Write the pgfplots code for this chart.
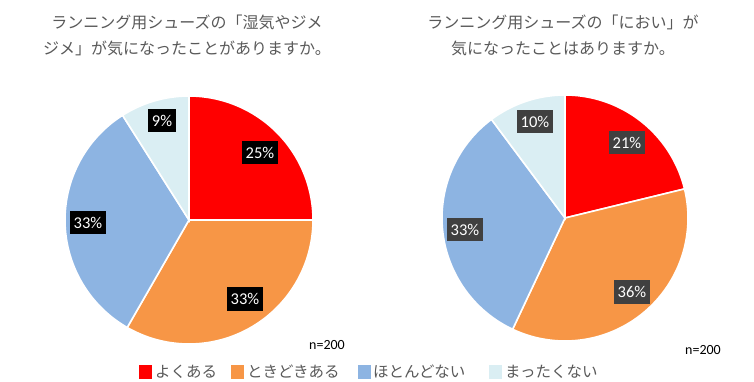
\documentclass[border=0pt]{standalone}
\usepackage{fontspec}
\setmainfont{Carlito}
\newfontfamily\jp{Noto Sans CJK JP}
\usepackage{pgfplots}
\pgfplotsset{compat=1.18}
\definecolor{cRed}{HTML}{FF0000}
\definecolor{cOrange}{HTML}{F79646}
\definecolor{cBlue}{HTML}{8DB4E2}
\definecolor{cLight}{HTML}{DAEEF3}
\definecolor{txt}{HTML}{595959}
\definecolor{boxR}{HTML}{404040}

% \slice{cx}{cy}{r}{start %}{end %}{colour}
\newcommand{\slice}[6]{%
  \pgfmathsetmacro{\angA}{90-3.6*(#5)}%
  \pgfmathsetmacro{\angB}{90-3.6*(#4)}%
  \addplot[draw=white, line width=1.6bp, fill=#6, domain=\angA:\angB, samples=90, variable=\t]
    ({#1+#3*cos(\t)}, {#2+#3*sin(\t)}) -- (axis cs:#1,#2) -- cycle;
}
\newcommand{\plabel}[4]{%
  \node[fill=#3, text=white, font=\fontsize{16.5bp}{19bp}\selectfont, inner xsep=4bp, inner ysep=2bp, minimum height=23bp] at (axis cs:#1,#2) {#4};
}

\begin{document}
\begin{tikzpicture}
\begin{axis}[x=1bp, y=1bp, xmin=0, xmax=754, ymin=0, ymax=382, hide axis, clip=false]
% Left pie: よくある 25, ときどきある 33.3, ほとんどない 32.7, まったくない 9.0
\slice{189}{162}{124}{0}{25}{cRed}
\slice{189}{162}{124}{25}{58.3}{cOrange}
\slice{189}{162}{124}{58.3}{91}{cBlue}
\slice{189}{162}{124}{91}{100}{cLight}
% Right pie: 21.2, 35.8, 32.8, 10.2
\slice{565}{164}{123}{0}{21.2}{cRed}
\slice{565}{164}{123}{21.2}{57}{cOrange}
\slice{565}{164}{123}{57}{89.8}{cBlue}
\slice{565}{164}{123}{89.8}{100}{cLight}

\plabel{260}{229}{black}{25\%}
\plabel{245}{83}{black}{33\%}
\plabel{88}{159}{black}{33\%}
\plabel{162}{261}{black}{9\%}

\plabel{627}{239}{boxR}{21\%}
\plabel{632}{90}{boxR}{36\%}
\plabel{465}{152}{boxR}{33\%}
\plabel{535}{260}{boxR}{10\%}

% titles
\node[align=center, text=txt, font=\jp\fontsize{16bp}{26bp}\selectfont] at (axis cs:187,347)
  {ランニング用シューズの「湿気やジメ\\ジメ」が気になったことがありますか。};
\node[align=center, text=txt, font=\jp\fontsize{16bp}{26bp}\selectfont] at (axis cs:563,347)
  {ランニング用シューズの「におい」が\\気になったことはありますか。};

% n
\node[font=\fontsize{14bp}{16bp}\selectfont] at (axis cs:327,37) {n=200};
\node[font=\fontsize{14bp}{16bp}\selectfont] at (axis cs:703,32) {n=200};

% legend
\node[fill=cRed, minimum size=13bp, inner sep=0] at (axis cs:145,10) {};
\node[anchor=west, inner sep=0, text=txt, font=\jp\fontsize{15.5bp}{18bp}\selectfont] at (axis cs:155,10) {よくある};
\node[fill=cOrange, minimum size=13bp, inner sep=0] at (axis cs:237,10) {};
\node[anchor=west, inner sep=0, text=txt, font=\jp\fontsize{15.5bp}{18bp}\selectfont] at (axis cs:247,10) {ときどきある};
\node[fill=cBlue, minimum size=13bp, inner sep=0] at (axis cs:364,10) {};
\node[anchor=west, inner sep=0, text=txt, font=\jp\fontsize{15.5bp}{18bp}\selectfont] at (axis cs:373,10) {ほとんどない};
\node[fill=cLight, minimum size=13bp, inner sep=0] at (axis cs:495,10) {};
\node[anchor=west, inner sep=0, text=txt, font=\jp\fontsize{15.5bp}{18bp}\selectfont] at (axis cs:505,10) {まったくない};
\end{axis}
\useasboundingbox (0,0) rectangle (754bp,382bp);
\end{tikzpicture}
\end{document}
